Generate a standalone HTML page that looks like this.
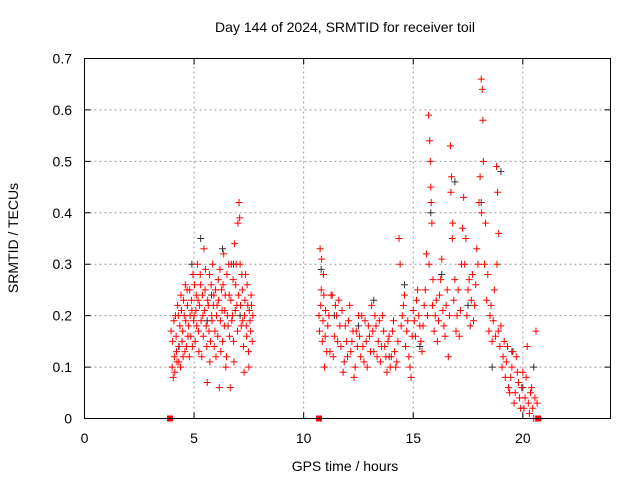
<!DOCTYPE html>
<html><head><meta charset="utf-8">
<style>
body{margin:0;background:#fff;}
svg{display:block;font-family:"Liberation Sans",sans-serif;}
</style></head>
<body>
<svg id="chart" width="640" height="480">
<rect width="640" height="480" fill="#fff"/>
<g id="grid"></g>
<g id="marks"></g>
<rect x="84.5" y="58.5" width="526" height="360" fill="none" stroke="#000"/>
<g id="axes"></g>
<text x="345" y="32" font-size="14" text-anchor="middle">Day 144 of 2024, SRMTID for receiver toil</text>
<text x="345" y="471" font-size="14" text-anchor="middle">GPS time / hours</text>
<text transform="translate(18,238) rotate(-90)" font-size="14" text-anchor="middle">SRMTID / TECUs</text>
</svg>
<script>
const xTicks=[0,5,10,15,20];
const yTicks=[0,0.1,0.2,0.3,0.4,0.5,0.6,0.7];
const yTickLabels=["0","0.1","0.2","0.3","0.4","0.5","0.6","0.7"];
const redX=[3.95,4.0,4.05,4.1,4.15,4.2,4.25,4.3,4.35,4.4,4.45,4.5,4.55,4.6,4.65,4.7,4.75,4.8,4.85,4.9,4.95,5.0,5.05,5.1,5.15,5.2,5.25,5.3,5.35,5.4,5.45,5.5,5.55,5.6,5.65,5.7,5.75,5.8,5.85,5.9,5.95,6.0,6.05,6.1,6.15,6.2,6.25,6.3,6.35,6.4,6.45,6.5,6.55,6.6,6.65,6.7,6.75,6.8,6.85,6.9,6.95,7.0,7.05,7.1,7.15,7.2,7.25,7.3,7.35,7.4,7.45,7.5,7.55,7.6,7.65,
10.7,10.75,10.8,10.85,10.9,10.95,11.0,11.1,11.2,11.3,11.4,11.5,11.6,11.7,11.8,11.9,12.0,12.1,12.2,12.3,12.4,12.5,12.6,12.7,12.8,12.9,13.0,13.1,13.2,13.3,13.4,13.5,13.6,13.7,13.8,13.9,14.0,14.1,14.2,14.3,14.35,14.4,14.5,14.6,14.7,14.8,14.9,15.0,15.1,15.2,15.3,15.4,15.5,15.6,15.7,15.75,15.8,15.85,15.9,16.0,16.1,16.2,16.3,16.4,16.5,16.6,16.7,16.75,16.8,16.9,17.0,17.1,17.2,17.3,17.4,17.5,17.6,17.7,17.8,17.9,18.0,18.1,18.15,18.2,18.3,18.4,18.5,18.6,18.7,18.8,18.85,18.9,19.0,19.1,19.2,19.3,19.4,19.5,19.6,19.7,19.8,19.9,20.0,20.1,20.2,20.3,20.4,20.5,20.6,20.65];
const redY=[.17,.10,.08,.12,.2,.13,.22,.11,.18,.24,.15,.12,.2,.26,.14,.22,.18,.25,.16,.21,.28,.2,.15,.24,.3,.17,.22,.26,.12,.2,.33,.25,.18,.07,.22,.28,.15,.2,.3,.24,.17,.12,.22,.27,.06,.19,.25,.15,.32,.21,.1,.28,.18,.24,.06,.3,.2,.15,.34,.26,.22,.38,.42,.3,.18,.25,.14,.2,.28,.16,.22,.1,.19,.24,.15,
.2,.33,.25,.15,.28,.1,.21,.18,.13,.24,.16,.2,.23,.14,.09,.18,.12,.22,.15,.08,.17,.2,.12,.14,.19,.1,.16,.22,.13,.18,.15,.11,.2,.14,.09,.16,.12,.19,.1,.15,.35,.3,.2,.24,.17,.12,.08,.21,.16,.25,.18,.13,.22,.32,.59,.54,.45,.38,.27,.2,.15,.24,.31,.18,.22,.12,.53,.47,.38,.27,.2,.16,.3,.43,.35,.25,.18,.28,.22,.33,.42,.66,.64,.5,.38,.28,.2,.15,.25,.49,.44,.36,.18,.12,.08,.14,.05,.1,.03,.12,.07,.02,.09,.04,.14,.01,.06,0,.17,.03];
const redX2=[4.02,4.08,4.12,4.18,4.22,4.28,4.32,4.38,4.42,4.48,4.52,4.58,4.62,4.68,4.72,4.78,4.82,4.88,4.92,4.98,5.02,5.08,5.12,5.18,5.22,5.28,5.32,5.38,5.42,5.48,5.52,5.58,5.62,5.68,5.72,5.78,5.82,5.88,5.92,5.98,6.02,6.08,6.12,6.18,6.22,6.28,6.32,6.38,6.42,6.48,6.52,6.58,6.62,6.68,6.72,6.78,6.82,6.88,6.92,6.98,7.02,7.08,7.12,7.18,7.22,7.28,7.32,7.38,7.42,7.48,7.52,7.58,7.62,7.68,
10.72,10.78,10.82,10.88,10.92,10.98,11.05,11.15,11.25,11.35,11.45,11.55,11.65,11.75,11.85,11.95,12.05,12.15,12.25,12.35,12.45,12.55,12.65,12.75,12.85,12.95,13.05,13.15,13.25,13.35,13.45,13.55,13.65,13.75,13.85,13.95,14.05,14.15,14.25,14.45,14.55,14.65,14.75,14.85,14.95,15.05,15.15,15.25,15.35,15.45,15.55,15.65,15.72,15.78,15.82,15.88,15.95,16.05,16.15,16.25,16.35,16.45,16.55,16.65,16.72,16.78,16.85,16.95,17.05,17.15,17.25,17.35,17.45,17.55,17.65,17.75,17.85,17.95,18.05,18.12,18.18,18.25,18.35,18.45,18.55,18.65,18.75,18.82,18.88,18.95,19.05,19.15,19.25,19.35,19.45,19.55,19.65,19.75,19.85,19.95,20.05,20.15,20.25,20.35,20.45,20.55];
const redY2=[.15,.19,.09,.16,.11,.2,.14,.1,.21,.17,.23,.13,.19,.25,.16,.12,.2,.23,.14,.19,.26,.21,.18,.23,.13,.28,.19,.24,.16,.21,.29,.14,.23,.17,.11,.26,.19,.22,.14,.25,.2,.16,.23,.29,.13,.21,.26,.18,.24,.12,.2,.3,.16,.23,.19,.27,.11,.21,.3,.17,.24,.39,.22,.28,.19,.09,.23,.18,.26,.13,.21,.17,.22,.2,
.17,.22,.31,.19,.24,.16,.13,.2,.24,.12,.22,.15,.18,.21,.11,.15,.19,.13,.17,.1,.14,.16,.2,.11,.15,.18,.13,.17,.2,.12,.19,.14,.17,.12,.15,.1,.17,.13,.11,.18,.22,.14,.19,.1,.16,.19,.23,.2,.15,.18,.25,.2,.3,.5,.42,.22,.17,.23,.19,.27,.21,.16,.25,.2,.44,.35,.23,.17,.25,.21,.37,.3,.2,.27,.23,.19,.26,.3,.47,.4,.58,.3,.23,.17,.22,.19,.16,.3,.17,.14,.1,.15,.11,.06,.08,.13,.05,.09,.04,.06,.02,.08,.03,.05,.02,.04];
const blackX=[4.3,4.9,5.3,5.6,5.8,6.3,6.8,7.1,10.8,11.4,12.5,13.2,13.9,14.6,15.3,15.8,16.3,16.9,17.5,18.1,18.6,19.0,19.5,20.0,20.5];
const blackY=[.14,.3,.35,.19,.24,.33,.3,.2,.29,.2,.18,.23,.12,.26,.14,.4,.28,.46,.22,.42,.1,.48,.13,.06,.1];
const zeroX=[3.9,10.7,20.7];
const NS="http://www.w3.org/2000/svg";
const X0=84.5,X1=610.5,Y0=418.5,Y1=58.5;
const xs=v=>X0+(v/24)*(X1-X0);
const ys=v=>Y0-(v/0.7)*(Y0-Y1);
function mk(tag,attrs,parent){const e=document.createElementNS(NS,tag);for(const k in attrs)e.setAttribute(k,attrs[k]);parent.appendChild(e);return e;}
const grid=document.getElementById('grid'),axes=document.getElementById('axes'),marks=document.getElementById('marks');
xTicks.forEach(t=>{const x=xs(t);
 if(t>0){const g=mk('line',{x1:x,x2:x,y1:Y0,y2:Y1,stroke:'#999','stroke-dasharray':'2,3'},grid);
 
 }
 const tk=mk('path',{d:`M${x},${Y0}v-6M${x},${Y1}v6`,stroke:'#000'},axes);
 
 
 const l=mk('text',{x:x,y:443,'font-size':14,'text-anchor':'middle'},axes);l.textContent=t;
 
 });
yTicks.forEach((t,i)=>{const y=ys(t);
 if(t>0&&t<0.7){const g=mk('line',{x1:X0,x2:X1,y1:y,y2:y,stroke:'#999','stroke-dasharray':'2,3'},grid);
 
 }
 const tk=mk('path',{d:`M${X0},${y}h6M${X1},${y}h-6`,stroke:'#000'},axes);
 
 
 const l=mk('text',{x:72,y:y+5,'font-size':14,'text-anchor':'end'},axes);l.textContent=yTickLabels[i];
 
 });
function plus(x,y,col,name){const p=mk('path',{d:`M${xs(x)-3.5},${ys(y)}h7M${xs(x)},${ys(y)-3.5}v7`,stroke:col,'stroke-width':1},marks);
 
 }
blackX.forEach((x,i)=>plus(x,blackY[i],'#333','black-point'));
redX.forEach((x,i)=>plus(x,redY[i],'#f00','red-point'));
redX2.forEach((x,i)=>plus(x,redY2[i],'#f00','red-point'));
zeroX.forEach(x=>{const r=mk('rect',{x:xs(x)-3,y:ys(0)-3,width:6,height:6,fill:'#f00'},marks);
 
 });
</script>
</body></html>
